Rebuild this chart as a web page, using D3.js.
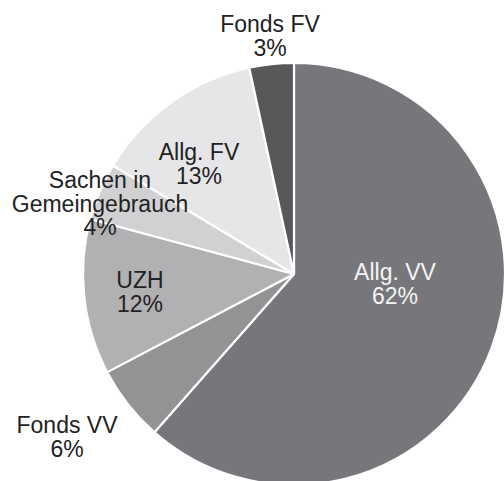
<!DOCTYPE html>
<html><head><meta charset="utf-8">
<script src="https://cdn.jsdelivr.net/npm/d3@7"></script>
<style>
html,body{margin:0;padding:0;background:#fff;}
svg{display:block;}
text{font-family:"Liberation Sans",Arial,Helvetica,sans-serif;}
</style></head>
<body>
<svg id="chart" width="504" height="481"></svg>
<script>
// Data
const categories = ["Allg. VV", "Fonds VV", "UZH", "Sachen in Gemeingebrauch", "Allg. FV", "Fonds FV"];
const labelLines = [["Allg. VV"], ["Fonds VV"], ["UZH"], ["Sachen in", "Gemeingebrauch"], ["Allg. FV"], ["Fonds FV"]];
const values = [61.5, 5.8, 11.9, 4.4, 13.0, 3.4];
const percentLabels = ["62%", "6%", "12%", "4%", "13%", "3%"];

// Styles / layout
const colors = ["#77777b", "#939396", "#b1b1b4", "#d1d1d3", "#e6e6e8", "#58585b"];
const textColors = ["#f4f4f4", "#222", "#222", "#222", "#222", "#222"];
const labelOffsets = [[101, 6], [-227, 159], [-154, 14], [-194, -86], [-95, -114], [-24, -242]];
const cx = 294, cy = 274, radius = 211, lineH = 23.5;

const svg = d3.select("#chart");
const g = svg.append("g").attr("transform", `translate(${cx},${cy})`);

const pie = d3.pie().sort(null).value(d => d.value);
const arc = d3.arc().innerRadius(0).outerRadius(radius);
const data = categories.map((c, i) => ({name: c, value: values[i], i}));
const arcs = pie(data);

g.selectAll("path.slice").data(arcs).join("path")
  .attr("class", "slice")
  .attr("d", arc)
  .attr("fill", d => colors[d.data.i])
  .attr("stroke", "#fff")
  .attr("stroke-width", 2.2)
  .attr("stroke-linejoin", "round");

const labels = g.selectAll("text.lbl").data(arcs).join("text")
  .attr("class", "lbl")
  .attr("text-anchor", "middle")
  .attr("font-size", 23)
  .attr("fill", d => textColors[d.data.i])
  .attr("transform", d => `translate(${labelOffsets[d.data.i][0]},${labelOffsets[d.data.i][1]})`);

labels.each(function(d) {
  const t = d3.select(this);
  const lines = labelLines[d.data.i].concat([percentLabels[d.data.i]]);
  lines.forEach((l, k) => {
    t.append("tspan").attr("x", 0).attr("y", k * lineH).text(l);
  });
});
</script>
</body></html>
